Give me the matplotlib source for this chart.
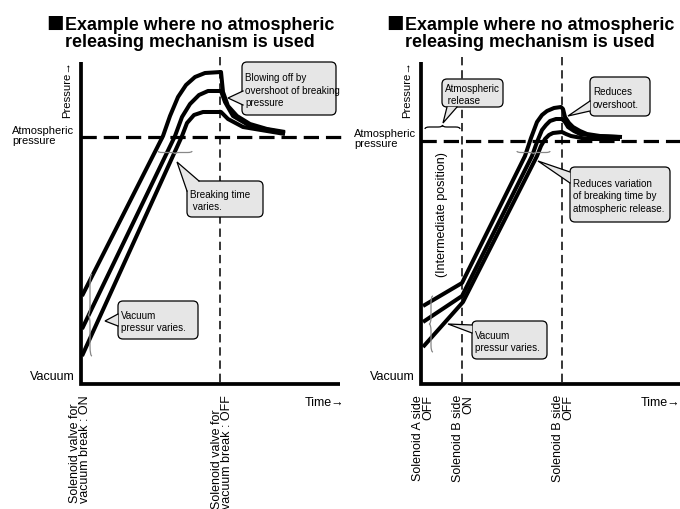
import matplotlib
matplotlib.use("Agg")
import matplotlib.pyplot as plt
from matplotlib.patches import FancyBboxPatch, Polygon, PathPatch
from matplotlib.path import Path

plt.rcParams['font.family'] = ['Liberation Sans', 'DejaVu Sans']
plt.rcParams['lines.scale_dashes'] = False

# ---- data (pixel space of the 680x510 picture) ----
TITLE_1 = "Example where no atmospheric"
TITLE_2 = "releasing mechanism is used"

# left panel: pressure traces without atmospheric release
left_x1 = [82, 163, 170, 178, 186, 195, 205, 221, 223, 228, 237, 250, 267, 285]
left_y1 = [297, 137, 117, 98, 86, 78, 74, 73, 93, 107, 117, 125, 130, 133]
left_x2 = [82, 175, 182, 190, 199, 208, 221, 225, 233, 250, 285]
left_y2 = [330, 137, 118, 105, 96, 92, 92, 103, 117, 127, 134]
left_x3 = [82, 182, 187, 194, 203, 221, 228, 243, 285]
left_y3 = [357, 137, 124, 116, 113, 113, 120, 128, 135]

# right panel: pressure traces with atmospheric release
right_x1 = [423, 462, 525, 531, 537, 542, 547, 554, 561, 563, 565, 569, 573, 580, 587, 600, 622]
right_y1 = [307, 284, 157, 139, 123, 116, 112, 109, 108, 110, 118, 124, 128, 132, 135, 137, 138]
right_x2 = [423, 462, 532, 537, 542, 546, 550, 556, 562, 565, 568, 574, 580, 595, 618]
right_y2 = [323, 297, 157, 143, 131, 126, 122, 120, 120, 123, 128, 132, 135, 137, 138]
right_x3 = [423, 463, 537, 541, 545, 549, 553, 562, 566, 571, 587, 620]
right_y3 = [348, 303, 157, 147, 140, 136, 134, 133, 135, 137, 140, 140]

left_ticks = ["Solenoid valve for\nvacuum break : ON", "Solenoid valve for\nvacuum break : OFF"]
left_tick_x = [80, 222]
right_ticks = ["Solenoid A side\nOFF", "Solenoid B side\nON", "Solenoid B side\nOFF"]
right_tick_x = [423, 463, 563]

# callouts: text, box (x0, y0, x1, y1), pointer tip, pointer base points
callouts = [
    ("Blowing off by\novershoot of breaking\npressure", (242, 63, 336, 116), (228, 99), [(243, 92), (243, 106)]),
    ("Breaking time\n varies.", (187, 182, 263, 218), (177, 163), [(187, 192), (199, 182)]),
    ("Vacuum\npressur varies.", (118, 302, 198, 340), (105, 322), [(118, 315), (118, 327)]),
    ("Atmospheric\n release", (442, 80, 503, 108), (443, 124), [(447, 108), (457, 108)]),
    ("Reduces\novershoot.", (590, 78, 650, 117), (568, 117), [(590, 102), (590, 112)]),
    ("Reduces variation\nof breaking time by\natmospheric release.", (570, 168, 670, 223), (538, 162), [(570, 173), (570, 184)]),
    ("Vacuum\npressur varies.", (472, 322, 547, 360), (448, 325), [(472, 326), (472, 334)]),
]

# braces: (a0, a1, pos, height, orientation, colour)
braces = [
    (275, 357, 92, 4, 'v', '#888888'),
    (158, 192, 152, -3, 'h', '#888888'),
    (425, 460, 130, 4, 'h', 'black'),
    (517, 550, 152, -3, 'h', '#888888'),
    (297, 353, 433, 4, 'v', '#888888'),
]


def brace(ax, a0, a1, pos, h, orient, color):
    m = (a0 + a1) / 2.0
    q = (a1 - a0) / 8.0
    pts = [(a0, pos), (a0, pos - h / 2), (a0 + q, pos - h / 2),
           (m - q, pos - h / 2), (m, pos - h / 2), (m, pos - h),
           (m, pos - h / 2), (m + q, pos - h / 2),
           (a1 - q, pos - h / 2), (a1, pos - h / 2), (a1, pos)]
    codes = [Path.MOVETO, Path.CURVE3, Path.CURVE3, Path.LINETO, Path.CURVE3, Path.CURVE3,
             Path.CURVE3, Path.CURVE3, Path.LINETO, Path.CURVE3, Path.CURVE3]
    if orient == 'v':
        pts = [(p[1], p[0]) for p in pts]
    ax.add_patch(PathPatch(Path(pts, codes), fill=False, edgecolor=color, lw=0.9, zorder=4))


def callout(ax, text, box, tip, base):
    x0, y0, x1, y1 = box
    ax.add_patch(FancyBboxPatch((x0, y0), x1 - x0, y1 - y0, boxstyle="round,pad=0,rounding_size=5",
                                facecolor='#e6e6e6', edgecolor='black', lw=0.9, zorder=5))
    ax.add_patch(Polygon([base[0], tip, base[1]], closed=True, facecolor='#e6e6e6',
                         edgecolor='none', zorder=6))
    ax.plot([base[0][0], tip[0], base[1][0]], [base[0][1], tip[1], base[1][1]],
            color='black', lw=0.9, zorder=7, solid_joinstyle='miter')
    ax.text(x0 + 3, (y0 + y1) / 2 + 1, text, ha='left', va='center', fontsize=7.1,
            linespacing=1.35, zorder=8)


def panel(ax, ox, atm_y, vlines, curves, time_x):
    lx = ox + 81
    ax.plot([lx, lx, ox + 340 if ox == 0 else 680], [63, 385, 385], color='black', lw=2.7,
            solid_joinstyle='miter', solid_capstyle='butt', zorder=3)
    ax.plot([lx, ox + 345 if ox == 0 else 680], [atm_y, atm_y], color='black', lw=2.3,
            dashes=(11, 5), zorder=2)
    for vx in vlines:
        ax.plot([vx, vx], [58, 385], color='black', lw=1.1, dashes=(6, 3.5), zorder=2)
    for cx, cy in curves:
        ax.plot(cx, cy, color='black', lw=2.9, solid_joinstyle='round', solid_capstyle='butt', zorder=3)

    ax.text(ox + 46, 31.5, "\u25a0", fontsize=21, va='baseline', ha='left')
    ax.text(ox + 65, 30, TITLE_1, fontsize=12.9, fontweight='bold', va='baseline', ha='left')
    ax.text(ox + 65, 47, TITLE_2, fontsize=12.9, fontweight='bold', va='baseline', ha='left')
    ax.text(ox + 67, 118, "Pressure\u2192", rotation=90, ha='center', va='bottom', fontsize=8.2)
    ax.text(ox + 75, 380, "Vacuum", ha='right', va='baseline', fontsize=9)
    ax.text(time_x, 403, "Time\u2192", ha='left', va='center', fontsize=9)


fig = plt.figure(figsize=(6.8, 5.1), dpi=100)
ax = fig.add_axes([0, 0, 1, 1])
ax.set_xlim(0, 680)
ax.set_ylim(510, 0)
ax.axis('off')

panel(ax, 0, 138, [220], [(left_x1, left_y1), (left_x2, left_y2), (left_x3, left_y3)], 305)
panel(ax, 340, 142, [462, 562], [(right_x1, right_y1), (right_x2, right_y2), (right_x3, right_y3)], 641)

ax.text(12, 144, "Atmospheric\npressure", ha='left', va='baseline', fontsize=8, linespacing=1.0)
ax.text(354, 147, "Atmospheric\npressure", ha='left', va='baseline', fontsize=8, linespacing=1.0)
ax.text(442, 215, "(Intermediate position)", rotation=90, ha='center', va='center', fontsize=9)

for lab, x in zip(left_ticks, left_tick_x):
    ax.text(x, 395, lab, rotation=90, ha='center', va='top', multialignment='left',
            fontsize=9, linespacing=0.85)
for lab, x in zip(right_ticks, right_tick_x):
    ax.text(x, 395, lab, rotation=90, ha='center', va='top', multialignment='right',
            fontsize=9, linespacing=0.85)

for b in braces:
    brace(ax, *b)
for c in callouts:
    callout(ax, *c)

fig.savefig("out.png", dpi=100)
